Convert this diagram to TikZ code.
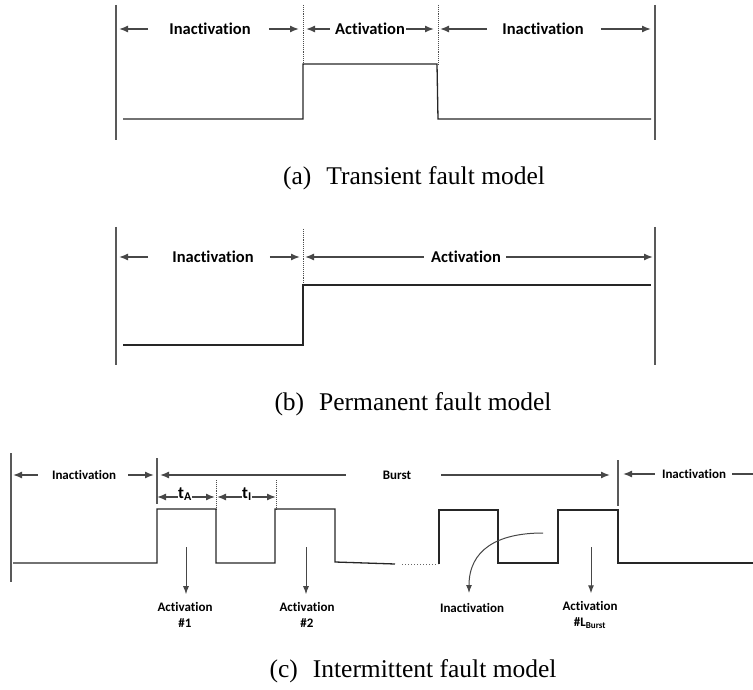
\documentclass[tikz,border=0pt]{standalone}
\usepackage{fontspec}
\setmainfont{Liberation Serif}
\newfontfamily\lblfont[Ligatures=NoCommon]{Carlito}
\usetikzlibrary{arrows.meta,positioning,calc}

\begin{document}
\begin{tikzpicture}[x=1pt, y=-1pt, >={Latex[length=9pt,width=7pt]}]
    \tikzset{
        a/.style={->, draw=black!72, line width=1.4pt},
        da/.style={-{Latex[length=8pt,width=6pt]}, draw=black!72, line width=1pt},
        wall/.style={draw=black!65, line width=1.4pt},
        sig/.style={draw=black!85, line width=1.3pt},
        dots/.style={draw=black!70, densely dotted, line width=0.9pt},
        lbl/.style={font=\lblfont\bfseries\fontsize{16.5}{18}\selectfont, inner sep=0pt},
        slbl/.style={font=\lblfont\bfseries\fontsize{13}{16}\selectfont, inner sep=0pt, align=center},
        tlbl/.style={font=\lblfont\bfseries\fontsize{17}{18}\selectfont, inner sep=0pt, anchor=base},
        captxt/.style={font=\fontsize{25.5}{28}\selectfont, inner sep=0pt}
    }
    \useasboundingbox (0,0) rectangle (753,690);

    % (a) transient
    \begin{scope}
        \draw [wall] (116,5) -- (116,140);
        \draw [wall] (655,5) -- (655,140);
        \draw [dots] (303,5) -- (303,64);
        \draw [dots] (438,5) -- (438,64);
        \draw [sig] (123,119) -- (303,119) -- (303,64) -- (437,64) -- (438,119) -- (651,119);

        \coordinate (aw1) at (119,29);
        \coordinate (aw2) at (299,29);
        \coordinate (aw3) at (306,29);
        \coordinate (aw4) at (434,29);
        \coordinate (aw5) at (440,29);
        \coordinate (aw6) at (651,29);

        \node at (210,29) [lbl] (aI1) {Inactivation};
        \node at (370,29) [lbl] (aA) {Activation};
        \node at (543,29) [lbl] (aI2) {Inactivation};

        \draw [a] ([xshift=-21pt]aI1.west) -- (aw1);
        \draw [a] ([xshift=18pt]aI1.east) -- (aw2);
        \draw [a] ([xshift=-5pt]aA.west) -- (aw3);
        \draw [a] ([xshift=1pt]aA.east) -- (aw4);
        \draw [a] ([xshift=-15pt]aI2.west) -- (aw5);
        \draw [a] ([xshift=17pt]aI2.east) -- (aw6);

        \node at (414,178) [captxt] (capA) {(a)\hspace{15pt}Transient fault model};
    \end{scope}

    % (b) permanent
    \begin{scope}
        \draw [wall] (116,227) -- (116,365);
        \draw [wall] (655,227) -- (655,365);
        \draw [dots] (303,229) -- (303,285);
        \draw [sig] (123,345) -- (303,345) -- (303,285) -- (651,285);

        \coordinate (bw1) at (119,257);
        \coordinate (bw2) at (300,257);
        \coordinate (bw3) at (305,257);
        \coordinate (bw4) at (653,257);

        \node at (213,257) [lbl] (bI) {Inactivation};
        \node at (466,257) [lbl] (bA) {Activation};

        \draw [a] ([xshift=-24pt]bI.west) -- (bw1);
        \draw [a] ([xshift=16pt]bI.east) -- (bw2);
        \draw [a] ([xshift=-7pt]bA.west) -- (bw3);
        \draw [a] ([xshift=5pt]bA.east) -- (bw4);

        \node at (413,404) [captxt] (capB) {(b)\hspace{15pt}Permanent fault model};
    \end{scope}

    % (c) intermittent
    \begin{scope}
        \draw [wall] (11,453) -- (11,582);
        \draw [wall] (157,458) -- (157,504);
        \draw [wall] (618,460) -- (618,506);
        \draw [dots] (216,480) -- (216,509);
        \draw [dots] (276,480) -- (276,509);
        \draw [sig] (13,563) -- (157,563) -- (157,509) -- (216,509) -- (216,563) -- (275,563)
            -- (275,509) -- (335,509) -- (335,562) -- (395,564);
        \draw [black!60, dotted, line width=1pt] (402,564) -- (438,564);
        \draw [sig] (439,564) -- (439,510) -- (498,510) -- (498,563) -- (558,563) -- (558,510)
            -- (618,510) -- (618,563) -- (753,563);

        \coordinate (cw1) at (13,475);
        \coordinate (cw2) at (154,475);
        \coordinate (cw3) at (160,475);
        \coordinate (cw4) at (610,475);
        \coordinate (cw5) at (623,474);
        \coordinate (cw6) at (762,474);

        \node at (84,475) [slbl] (cI1) {Inactivation};
        \node at (397,475) [slbl] (cB) {Burst};
        \node at (694,474) [slbl] (cI2) {Inactivation};

        \draw [a] ([xshift=-14pt]cI1.west) -- (cw1);
        \draw [a] ([xshift=12pt]cI1.east) -- (cw2);
        \draw [a] ([xshift=-37pt]cB.west) -- (cw3);
        \draw [a] ([xshift=30pt]cB.east) -- (cw4);
        \draw [a] ([xshift=-7pt]cI2.west) -- (cw5);
        \draw [a] ([xshift=6pt]cI2.east) -- (cw6);

        % pulse widths
        \coordinate (tA1) at (157,497);
        \coordinate (tA2) at (215,497);
        \coordinate (tI1) at (217,497);
        \coordinate (tI2) at (276,497);
        \node at (185,498) [tlbl] (tA) {t\textsubscript{A}};
        \node at (247,498) [tlbl] (tI) {t\textsubscript{I}};
        \draw [a] (tA.west |- tA1) -- (tA1);
        \draw [a] (tA.east |- tA2) -- (tA2);
        \draw [a] (tI.west |- tI1) -- (tI1);
        \draw [a] (tI.east |- tI2) -- (tI2);

        % pointers
        \coordinate (p1) at (186,547);
        \coordinate (p2) at (306,547);
        \coordinate (p3) at (543,533);
        \coordinate (p3e) at (469,593);
        \coordinate (p4) at (591,547);

        \node at (185,615) [slbl] (act1) {Activation\\\#1};
        \node at (307,615) [slbl] (act2) {Activation\\\#2};
        \node at (472,608) [slbl] (inact) {Inactivation};
        \node at (590,615) [slbl] (actL) {Activation\\\#L\textsubscript{Burst}};

        \draw [da, shorten >=8pt] (p1) -- (p1 |- act1.north);
        \draw [da, shorten >=8pt] (p2) -- (p2 |- act2.north);
        \draw [da] (p3) .. controls (497,533) and (469,550) .. (p3e);
        \draw [da, shorten >=8pt] (p4) -- (p4 |- actL.north);

        \node at (413,671) [captxt] (capC) {(c)\hspace{15pt}Intermittent fault model};
    \end{scope}
\end{tikzpicture}
\end{document}
